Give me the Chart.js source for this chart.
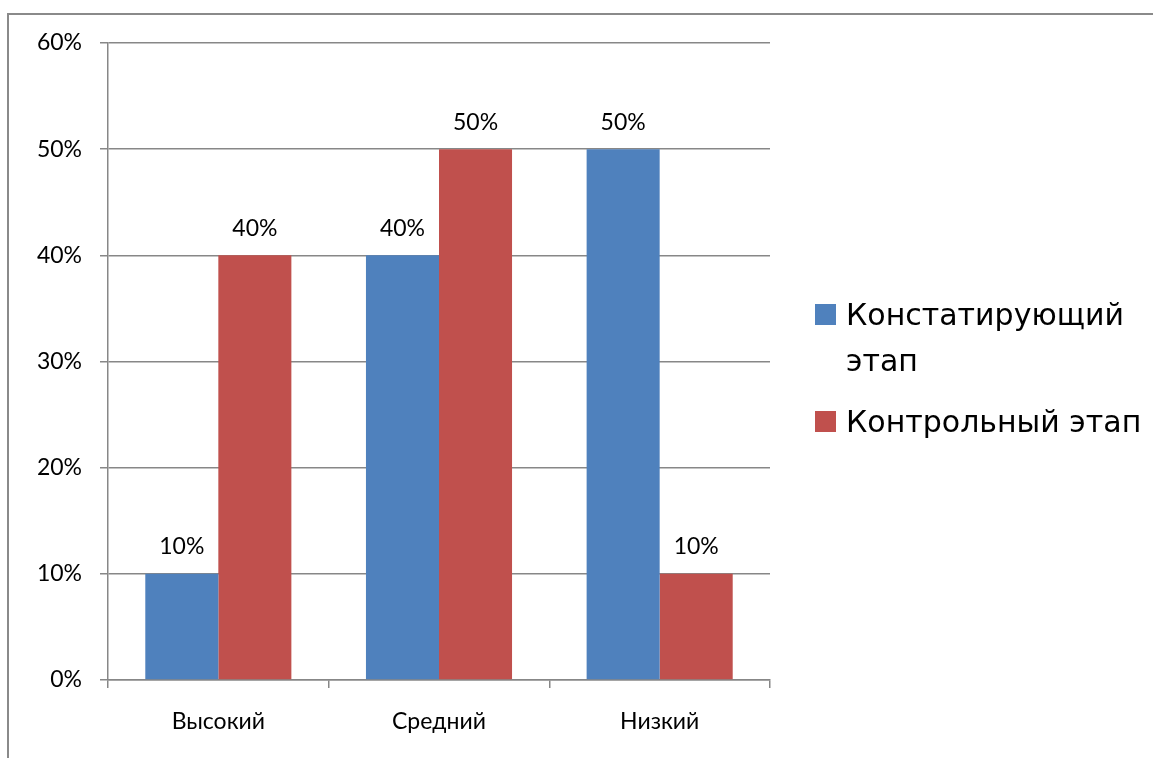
<!DOCTYPE html>
<html>
<head>
<meta charset="utf-8">
<script src="https://cdn.jsdelivr.net/npm/chart.js@4/dist/chart.umd.min.js"></script>
<style>
  html, body { margin: 0; padding: 0; background: #fff; }
  #wrap { position: relative; width: 1153px; height: 758px; overflow: hidden; }
  #frame { position: absolute; left: 7px; top: 13px; width: 1200px; height: 800px;
           border-left: 2px solid #8a8a8a; border-top: 2px solid #8a8a8a; }
  canvas { position: absolute; left: 0; top: 0; }
  #legend { position: absolute; left: 815px; top: 292px; font-family: "DejaVu Sans", sans-serif;
            font-size: 30px; color: #000; line-height: 46px; }
  .item { display: flex; align-items: flex-start; margin-bottom: 15px; }
  .box { width: 21px; height: 21px; margin-top: 12px; margin-right: 10px; flex: none; }
  .txt { width: 305px; }
</style>
</head>
<body>
<div id="wrap">
  <div id="frame"></div>
  <canvas id="myChart" width="1153" height="758"></canvas>
  <div id="legend"></div>
</div>
<script>
// данные диаграммы
const categories = ['Высокий', 'Средний', 'Низкий'];
const seriesNames = ['Констатирующий этап', 'Контрольный этап'];
const stage1 = [10, 40, 50];
const stage2 = [40, 50, 10];
const yTicks = [0, 10, 20, 30, 40, 50, 60];

const colors = ['#4F81BD', '#C0504D'];
const gridColor = '#878787';
const font = 'Lato, sans-serif';

// подписи значений над столбцами
const valueLabels = {
  id: 'valueLabels',
  afterDatasetsDraw(chart) {
    const ctx = chart.ctx;
    ctx.save();
    ctx.font = '23px ' + font;
    ctx.fillStyle = '#000';
    ctx.textAlign = 'center';
    ctx.textBaseline = 'middle';
    chart.data.datasets.forEach((ds, i) => {
      chart.getDatasetMeta(i).data.forEach((bar, j) => {
        ctx.fillText(ds.data[j] + '%', bar.x, bar.y - 27);
      });
    });
    ctx.restore();
  }
};

const ctx = document.getElementById('myChart').getContext('2d');
const chart = new Chart(ctx, {
  type: 'bar',
  data: {
    labels: categories,
    datasets: [
      { label: seriesNames[0], data: stage1, backgroundColor: colors[0] },
      { label: seriesNames[1], data: stage2, backgroundColor: colors[1] },
    ],
  },
  options: {
    responsive: false,
    animation: false,
    layout: { padding: { left: 0, top: 43, right: 383, bottom: 0 } },
    datasets: { bar: { categoryPercentage: 0.662, barPercentage: 1.0 } },
    plugins: { legend: { display: false }, tooltip: { enabled: false } },
    scales: {
      x: {
        grid: { offset: true, drawOnChartArea: false, drawTicks: true, tickLength: 8, color: gridColor, lineWidth: 1.5 },
        border: { color: gridColor, width: 1.5 },
        ticks: { color: '#000', font: { family: font, size: 23 }, padding: 20 },
        afterFit: (s) => { s.height = 78; },
      },
      y: {
        min: 0,
        max: 60,
        afterBuildTicks: (s) => { s.ticks = yTicks.map((v) => ({ value: v })); },
        grid: { color: gridColor, lineWidth: 1.5, tickLength: 8 },
        border: { color: gridColor, width: 1.5 },
        ticks: { color: '#000', font: { family: font, size: 23 }, padding: 18, callback: (v) => v + '%' },
        afterFit: (s) => { s.width = 108; },
      },
    },
  },
  plugins: [valueLabels],
});

// легенда справа
const legend = document.getElementById('legend');
chart.data.datasets.forEach((ds) => {
  const item = document.createElement('div');
  item.className = 'item';
  item.innerHTML = '<div class="box" style="background:' + ds.backgroundColor + '"></div><div class="txt">' + ds.label + '</div>';
  legend.appendChild(item);
});
</script>
</body>
</html>
